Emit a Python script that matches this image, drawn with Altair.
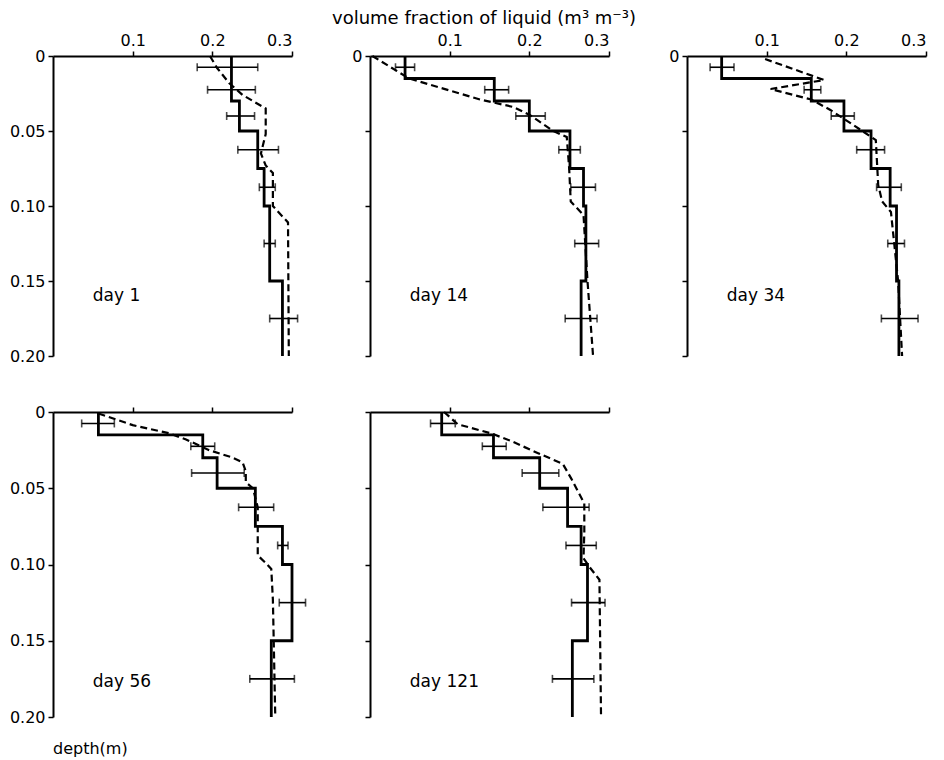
import altair as alt
import pandas as pd

# ---------------- data ----------------
DAYS = ["day 1", "day 14", "day 34", "day 56", "day 121"]

# layer boundaries (depth, m) and layer mid-depths
BOUNDS = [0, 0.015, 0.03, 0.05, 0.075, 0.10, 0.15, 0.20]
MIDS = [0.0075, 0.0225, 0.04, 0.0625, 0.0875, 0.125, 0.175]

# measured volume fraction per layer (solid step line)
MEAS_DAY1 = [0.224, 0.224, 0.234, 0.257, 0.265, 0.272, 0.288]
MEAS_DAY14 = [0.044, 0.156, 0.200, 0.251, 0.268, 0.271, 0.265]
MEAS_DAY34 = [0.0435, 0.156, 0.197, 0.231, 0.255, 0.263, 0.266]
MEAS_DAY56 = [0.057, 0.188, 0.206, 0.254, 0.288, 0.300, 0.274]
MEAS_DAY121 = [0.090, 0.155, 0.213, 0.248, 0.265, 0.273, 0.254]

# error bar ends
LO_DAY1 = [0.181, 0.194, 0.218, 0.232, 0.259, 0.265, 0.272]
HI_DAY1 = [0.257, 0.254, 0.253, 0.283, 0.279, 0.279, 0.307]
LO_DAY14 = [0.032, 0.144, 0.183, 0.237, 0.252, 0.257, 0.245]
HI_DAY14 = [0.056, 0.174, 0.220, 0.264, 0.283, 0.287, 0.285]
LO_DAY34 = [0.029, 0.147, 0.181, 0.213, 0.238, 0.252, 0.244]
HI_DAY34 = [0.059, 0.168, 0.210, 0.248, 0.269, 0.273, 0.290]
LO_DAY56 = [0.036, 0.173, 0.174, 0.233, 0.282, 0.284, 0.247]
HI_DAY56 = [0.077, 0.203, 0.240, 0.277, 0.295, 0.317, 0.303]
LO_DAY121 = [0.076, 0.141, 0.191, 0.217, 0.246, 0.253, 0.229]
HI_DAY121 = [0.107, 0.171, 0.237, 0.275, 0.284, 0.295, 0.281]

# model profiles (dashed): depth and value
MOD_D_DAY1 = [0.0, 0.008, 0.018, 0.026, 0.035, 0.052, 0.065, 0.073, 0.078, 0.100, 0.111, 0.200]
MOD_V_DAY1 = [0.197, 0.206, 0.221, 0.238, 0.267, 0.267, 0.261, 0.267, 0.276, 0.276, 0.295, 0.296]
MOD_D_DAY14 = [0.0, 0.015, 0.029, 0.034, 0.0395, 0.050, 0.054, 0.075, 0.097, 0.106, 0.150, 0.200]
MOD_V_DAY14 = [0.003, 0.049, 0.138, 0.180, 0.201, 0.230, 0.247, 0.250, 0.252, 0.268, 0.273, 0.280]
MOD_D_DAY34 = [0.002, 0.016, 0.022, 0.029, 0.036, 0.045, 0.056, 0.086, 0.097, 0.104, 0.150, 0.200]
MOD_V_DAY34 = [0.098, 0.172, 0.105, 0.156, 0.180, 0.206, 0.237, 0.240, 0.245, 0.256, 0.265, 0.270]
MOD_D_DAY56 = [0.001, 0.0086, 0.014, 0.018, 0.025, 0.030, 0.033, 0.039, 0.046, 0.050, 0.0625, 0.094, 0.099, 0.103, 0.123, 0.200]
MOD_V_DAY56 = [0.057, 0.100, 0.146, 0.167, 0.196, 0.226, 0.238, 0.242, 0.242, 0.251, 0.257, 0.257, 0.267, 0.274, 0.276, 0.279]
MOD_D_DAY121 = [0.0, 0.008, 0.014, 0.019, 0.027, 0.034, 0.044, 0.060, 0.079, 0.096, 0.102, 0.110, 0.200]
MOD_V_DAY121 = [0.093, 0.110, 0.152, 0.177, 0.211, 0.242, 0.253, 0.269, 0.269, 0.268, 0.276, 0.288, 0.290]

XTICKS = [0.1, 0.2, 0.3]
YTICKS = [0, 0.05, 0.10, 0.15, 0.20]

MEAS = dict(zip(DAYS, [MEAS_DAY1, MEAS_DAY14, MEAS_DAY34, MEAS_DAY56, MEAS_DAY121]))
LO = dict(zip(DAYS, [LO_DAY1, LO_DAY14, LO_DAY34, LO_DAY56, LO_DAY121]))
HI = dict(zip(DAYS, [HI_DAY1, HI_DAY14, HI_DAY34, HI_DAY56, HI_DAY121]))
MOD_D = dict(zip(DAYS, [MOD_D_DAY1, MOD_D_DAY14, MOD_D_DAY34, MOD_D_DAY56, MOD_D_DAY121]))
MOD_V = dict(zip(DAYS, [MOD_V_DAY1, MOD_V_DAY14, MOD_V_DAY34, MOD_V_DAY56, MOD_V_DAY121]))

FONT = "DejaVu Sans"
W = 239


def panel(day, xlabels, ymode, height, label_depth, bottom_title=None):
    step_rows = []
    for i, v in enumerate(MEAS[day]):
        step_rows.append({"x": v, "y": BOUNDS[i], "o": 2 * i})
        step_rows.append({"x": v, "y": BOUNDS[i + 1], "o": 2 * i + 1})
    step_df = pd.DataFrame(step_rows)
    mod_df = pd.DataFrame({"y": MOD_D[day], "x": MOD_V[day], "o": list(range(len(MOD_D[day])))})
    err_df = pd.DataFrame({"y": MIDS, "lo": LO[day], "hi": HI[day]})

    if ymode == "all":
        yaxis = alt.Axis(values=YTICKS, title=None, labelExpr="datum.value == 0 ? '0' : format(datum.value, '.2f')")
    elif ymode == "zero":
        yaxis = alt.Axis(values=YTICKS, title=None, labelExpr="datum.value == 0 ? '0' : ''")
    else:
        yaxis = alt.Axis(values=YTICKS, title=None, labels=False)
    xaxis = alt.Axis(orient="top", values=XTICKS, title=None, format=".1f", labels=xlabels)

    xs = alt.Scale(domain=[0, 0.3], nice=False, zero=False)
    ys = alt.Scale(domain=[0, 0.2], nice=False, reverse=True)

    solid = alt.Chart(step_df).mark_line(color="black", strokeWidth=2.8, clip=False).encode(
        x=alt.X("x:Q", scale=xs, axis=xaxis),
        y=alt.Y("y:Q", scale=ys, axis=yaxis),
        order="o:Q",
    )
    dashed = alt.Chart(mod_df).mark_line(color="black", strokeWidth=2.2, strokeDash=[7, 4], clip=False).encode(
        x="x:Q", y="y:Q", order="o:Q"
    )
    bars = alt.Chart(err_df).mark_rule(color="black", strokeWidth=1.6).encode(
        x="lo:Q", x2="hi:Q", y="y:Q"
    )
    caps = alt.Chart(err_df).transform_fold(["lo", "hi"], as_=["k", "v"]).mark_tick(
        color="black", orient="vertical", size=8, thickness=1.6
    ).encode(x="v:Q", y="y:Q")
    label = alt.Chart(pd.DataFrame({"t": [day]})).mark_text(
        align="left", baseline="middle", font=FONT, fontSize=17, color="black"
    ).encode(x=alt.datum(0.05), y=alt.datum(label_depth), text="t:N")

    props = dict(width=W, height=height)
    if bottom_title:
        props["title"] = alt.TitleParams(bottom_title, orient="bottom", anchor="start", offset=16,
                                         font=FONT, fontSize=16, fontWeight="normal", frame="group")
    return alt.layer(solid, dashed, bars, caps, label).properties(**props)


p1 = panel("day 1", True, "all", 300, 0.160)
p2 = panel("day 14", True, "zero", 300, 0.160)
p3 = panel("day 34", True, "zero", 300, 0.160)
p4 = panel("day 56", False, "all", 305, 0.177, bottom_title="depth(m)")
p5 = panel("day 121", False, "none", 305, 0.177)

chart = alt.concat(
    p1, p2, p3, p4, p5, columns=3, spacing={"row": 56, "column": 78}, bounds="flush"
).properties(
    title=alt.TitleParams("volume fraction of liquid (m³ m⁻³)", anchor="middle", dx=16, offset=4,
                          font=FONT, fontSize=18, fontWeight="normal", color="black"),
    padding={"left": 1, "top": 2, "right": 5, "bottom": 5},
).configure_view(stroke=None).configure_axis(
    grid=False, domainColor="black", domainWidth=2, tickColor="black", tickWidth=1.5, tickSize=5,
    labelColor="black", labelFont=FONT, labelFontSize=16, labelPadding=3,
)

chart.save("out.html", embed_options={"renderer": "svg", "actions": False})
